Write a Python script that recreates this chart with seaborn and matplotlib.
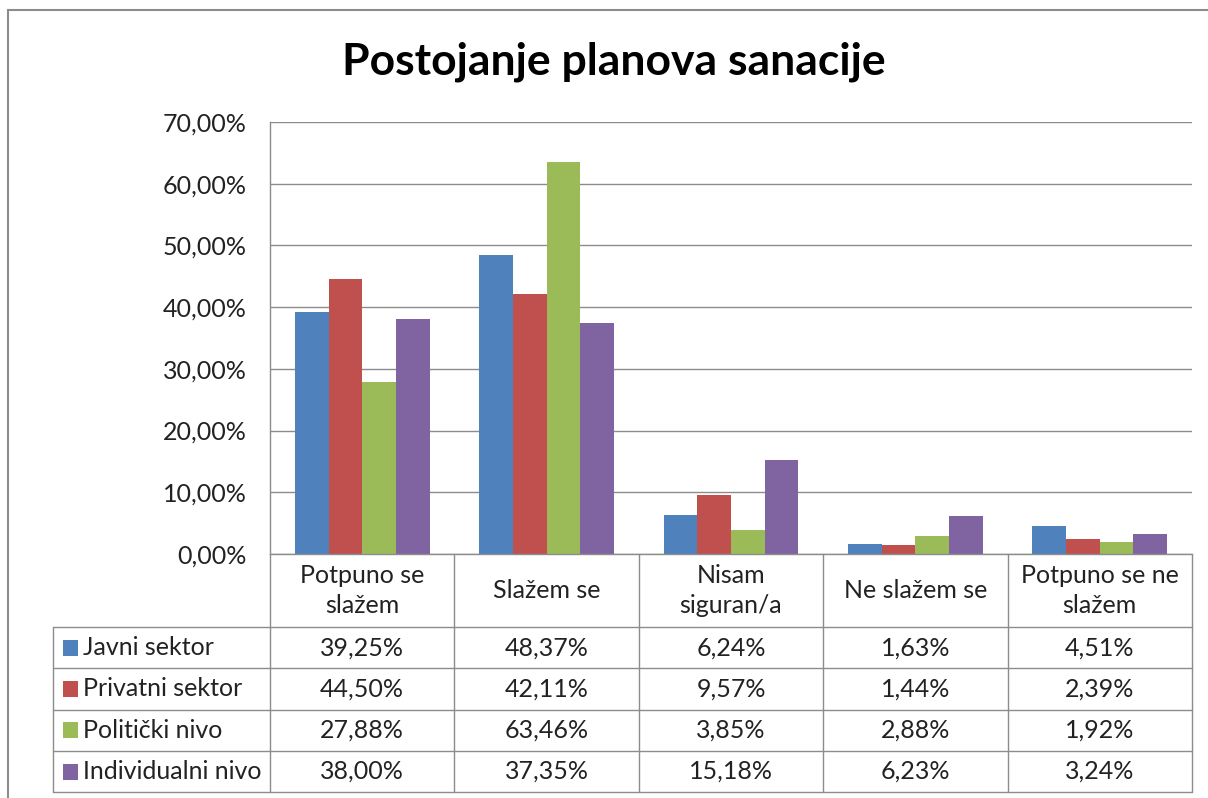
import numpy as np
import pandas as pd
import seaborn as sns
import matplotlib.pyplot as plt
from matplotlib.lines import Line2D
from matplotlib.patches import Rectangle
from matplotlib.ticker import FuncFormatter
import matplotlib.transforms as mtransforms

# podaci
categories = ["Potpuno se\nslažem", "Slažem se", "Nisam\nsiguran/a", "Ne slažem se", "Potpuno se ne\nslažem"]
series = ["Javni sektor", "Privatni sektor", "Politički nivo", "Individualni nivo"]
javni = [39.25, 48.37, 6.24, 1.63, 4.51]
privatni = [44.50, 42.11, 9.57, 1.44, 2.39]
politicki = [27.88, 63.46, 3.85, 2.88, 1.92]
individualni = [38.00, 37.35, 15.18, 6.23, 3.24]
colors = ["#4F81BD", "#C0504D", "#9BBB59", "#8064A2"]
yticks = [0, 10, 20, 30, 40, 50, 60, 70]

values = [javni, privatni, politicki, individualni]
rows = []
for s, vals in zip(series, values):
    for c, v in zip(categories, vals):
        rows.append({"kategorija": c, "serija": s, "vrijednost": v})
df = pd.DataFrame(rows)

sns.set_style("white")
plt.rcParams['font.family'] = ['Lato', 'DejaVu Sans']

W, H = 1208, 798
fig = plt.figure(figsize=(W / 100, H / 100), dpi=100)


def fx(x):
    return x / W


def fy(y):
    return 1 - y / H


# okvir grafikona
fig.patches.append(Rectangle((fx(8), fy(830)), fx(1300), fy(10) - fy(830),
                             transform=fig.transFigure, fill=False,
                             edgecolor="#8c8c8c", linewidth=1.5))

left, right, top, bottom = 270, 1192, 122, 554
ax = fig.add_axes([fx(left), fy(bottom), fx(right - left), fy(top) - fy(bottom)])

sns.barplot(data=df, x="kategorija", y="vrijednost", hue="serija",
            palette=colors, saturation=1, width=0.73, ax=ax,
            edgecolor="none", linewidth=0)
ax.legend_.remove()
ax.set_xlim(-0.5, len(categories) - 0.5)
ax.set_ylim(0, 70)
ax.set_yticks(yticks)
ax.yaxis.set_major_formatter(FuncFormatter(lambda v, p: f"{v:.2f}%".replace(".", ",")))
ax.tick_params(axis="y", labelsize=18, colors="#222222", length=0, pad=17)
ax.set_xticks([])
ax.set_xlabel("")
ax.set_ylabel("")
ax.grid(axis="y", color="#8c8c8c", linewidth=1)
ax.set_axisbelow(True)
for side in ["top", "right"]:
    ax.spines[side].set_visible(False)
for side in ["left", "bottom"]:
    ax.spines[side].set_color("#8c8c8c")
    ax.spines[side].set_linewidth(1)

fig.text(fx(614), fy(62), "Postojanje planova sanacije", ha="center", va="center",
         fontsize=32, fontweight="bold", color="black")

# tablica podataka
blend = mtransforms.blended_transform_factory(ax.transData, fig.transFigure)
line_kw = dict(color="#8c8c8c", linewidth=1)
n = len(categories)
header_bottom = 627
row_h = 41.3
fs = 18

for i in range(n + 1):
    xb = i - 0.5
    fig.add_artist(Line2D([xb, xb], [fy(bottom), fy(header_bottom + 4 * row_h)],
                          transform=blend, **line_kw))
for r in range(5):
    yy = fy(header_bottom + r * row_h)
    fig.add_artist(Line2D([fx(53), fx(right)], [yy, yy], transform=fig.transFigure, **line_kw))
fig.add_artist(Line2D([fx(53), fx(53)], [fy(header_bottom), fy(header_bottom + 4 * row_h)],
                      transform=fig.transFigure, **line_kw))

for i, c in enumerate(categories):
    fig.text(i, fy((bottom + header_bottom) / 2), c, transform=blend, ha="center", va="center",
             fontsize=fs, color="#222222", linespacing=1.4)

for r, (s, vals, col) in enumerate(zip(series, values, colors)):
    yc = header_bottom + (r + 0.5) * row_h
    fig.patches.append(Rectangle((fx(63), fy(yc + 8)), fx(15), fy(yc - 8) - fy(yc + 8),
                                 transform=fig.transFigure, facecolor=col, edgecolor="none"))
    fig.text(fx(83), fy(yc), s, ha="left", va="center", fontsize=fs, color="#222222")
    for i, v in enumerate(vals):
        fig.text(i, fy(yc), f"{v:.2f}%".replace(".", ","), transform=blend,
                 ha="center", va="center", fontsize=fs, color="#222222")

fig.savefig("out.png", dpi=100)
